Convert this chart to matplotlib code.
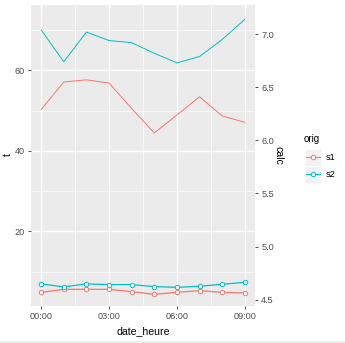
import matplotlib
matplotlib.use("Agg")
import matplotlib.pyplot as plt
from matplotlib.lines import Line2D
from matplotlib.patches import Rectangle

# hourly measurements
hours = [0, 1, 2, 3, 4, 5, 6, 7, 8, 9]
series = ["s1", "s2"]
t_s1 = [4.89, 5.64, 5.64, 5.64, 5.07, 4.39, 4.89, 5.31, 4.89, 4.74]
t_s2 = [6.98, 6.24, 6.98, 6.81, 6.81, 6.31, 6.14, 6.39, 6.89, 7.39]
calc_s1 = [6.29, 6.55, 6.57, 6.54, 6.30, 6.07, 6.24, 6.41, 6.23, 6.17]
calc_s2 = [7.04, 6.74, 7.02, 6.94, 6.92, 6.82, 6.73, 6.79, 6.95, 7.14]
x_ticks = [0, 3, 6, 9]
x_labels = ["00:00", "03:00", "06:00", "09:00"]
t_ticks = [20, 40, 60]
calc_ticks = [4.5, 5.0, 5.5, 6.0, 6.5, 7.0]

# linear link between the calc scale and the t scale
SCALE, OFFSET = 26.36, -115.56
def calc_to_t(c):
    return SCALE * c + OFFSET
def t_to_calc(t):
    return (t - OFFSET) / SCALE

colors = {"s1": "#F8766D", "s2": "#00BFC4"}
TXT = "#4D4D4D"
FONT = "Liberation Sans"

W, H = 345, 343
fig = plt.figure(figsize=(W / 100, H / 100), dpi=100)
fig.patch.set_facecolor("white")

def px(x0, y0, x1, y1):
    return [x0 / W, 1 - y1 / H, (x1 - x0) / W, (y1 - y0) / H]

ax = fig.add_axes(px(31, 5, 255, 306))
ax.set_facecolor("#EBEBEB")
for s in ax.spines.values():
    s.set_visible(False)

ax.set_xlim(-0.45, 9.45)
ax.set_ylim(1.5, 76.2)

# grid: major and minor, white
for v in [1.5, 4.5, 7.5]:
    ax.axvline(v, color="white", lw=0.5, zorder=0)
for v in [10, 30, 50, 70]:
    ax.axhline(v, color="white", lw=0.5, zorder=0)
for v in x_ticks:
    ax.axvline(v, color="white", lw=1.0, zorder=0)
for v in t_ticks:
    ax.axhline(v, color="white", lw=1.0, zorder=0)

calc_data = {"s1": calc_s1, "s2": calc_s2}
t_data = {"s1": t_s1, "s2": t_s2}
for s in series:
    ax.plot(hours, [calc_to_t(c) for c in calc_data[s]], color=colors[s],
            lw=0.7, zorder=2)
    ax.plot(hours, t_data[s], color=colors[s], lw=0.9, marker="o",
            ms=3.2, mfc="white", mec=colors[s], mew=0.7, zorder=3)

ax.set_xticks(x_ticks)
ax.set_xticklabels(x_labels)
ax.set_yticks(t_ticks)
ax.tick_params(axis="both", colors="#333333", labelcolor=TXT, labelsize=6.6,
               length=2.5, width=0.6, pad=2)
for lab in ax.get_xticklabels() + ax.get_yticklabels():
    lab.set_family(FONT)

sec = ax.secondary_yaxis("right", functions=(t_to_calc, calc_to_t))
sec.set_yticks(calc_ticks)
sec.set_yticklabels([f"{v:.1f}" for v in calc_ticks])
sec.spines["right"].set_visible(False)
sec.tick_params(axis="y", colors="#333333", labelcolor=TXT, labelsize=6.6,
                length=2.5, width=0.6, pad=2)
for lab in sec.get_yticklabels():
    lab.set_family(FONT)

fig.text(143 / W, 1 - 331 / H, "date_heure", ha="center", va="center",
         fontsize=7.6, family=FONT, color="black")
fig.text(8 / W, 1 - 155 / H, "t", ha="center", va="center", rotation=90,
         fontsize=7.6, family=FONT, color="black")
fig.text(278 / W, 1 - 155 / H, "calc", ha="center", va="center", rotation=270,
         fontsize=7.6, family=FONT, color="black")

# legend
fig.text(304 / W, 1 - 139 / H, "orig", ha="left", va="center",
         fontsize=7, family=FONT, color="black")
for i, s in enumerate(series):
    yc = 157.3 + i * 17
    fig.patches.append(Rectangle((304.5 / W, 1 - (yc + 8.5) / H), 16.5 / W, 17 / H,
                                 transform=fig.transFigure, facecolor="#F2F2F2",
                                 edgecolor="white", lw=0.5))
    fig.lines.append(Line2D([306 / W, 319.5 / W], [1 - yc / H, 1 - yc / H],
                            transform=fig.transFigure, color=colors[s], lw=0.8))
    fig.lines.append(Line2D([312.75 / W], [1 - yc / H], transform=fig.transFigure,
                            marker="o", ms=3.2, mfc="white", mec=colors[s], mew=0.7))
    fig.text(326 / W, 1 - yc / H, s, ha="left", va="center",
             fontsize=6.6, family=FONT, color="black")

# bottom strip of the canvas
fig.patches.append(Rectangle((0, 0), 1, 2.5 / H, transform=fig.transFigure,
                             facecolor="#ECECEC", edgecolor="none"))

fig.savefig("out.png", dpi=100)
